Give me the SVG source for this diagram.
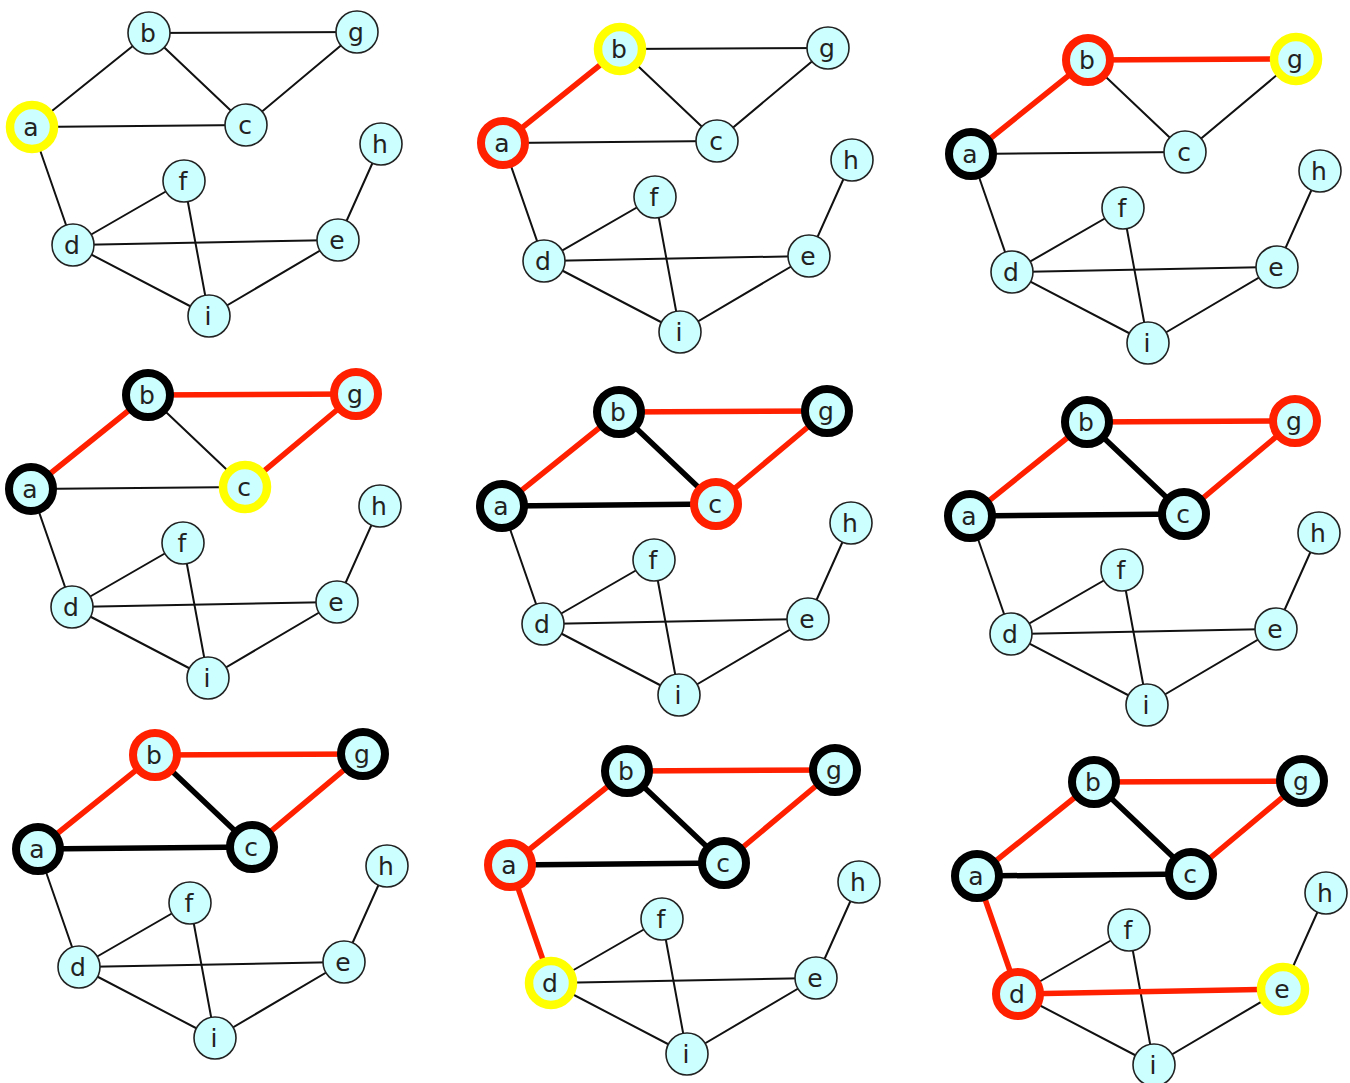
<svg xmlns="http://www.w3.org/2000/svg" width="1350" height="1083" viewBox="0 0 1350 1083">
<style>
.edge{stroke:#111;stroke-width:2;stroke-linecap:round}
.edge.red{stroke:#ff2000;stroke-width:5.5}
.edge.blk{stroke:#000;stroke-width:5.5}
.node circle{fill:#ccffff;stroke:#222;stroke-width:1.6}
.node.hy circle{stroke:#ffff00;stroke-width:8.5}
.node.hr circle{stroke:#ff2000;stroke-width:8}
.node.hk circle{stroke:#000;stroke-width:8}
.node text{font-family:"DejaVu Sans",sans-serif;font-size:25px;fill:#222;text-anchor:middle}
</style>
<rect width="1350" height="1083" fill="#fff"/>

<g id="panel1" transform="translate(0,0)">
<g id="p1-edges">
<line class="edge" x1="32" y1="127" x2="149" y2="33"/>
<line class="edge" x1="32" y1="127" x2="246" y2="125"/>
<line class="edge" x1="32" y1="127" x2="73" y2="245"/>
<line class="edge" x1="149" y1="33" x2="246" y2="125"/>
<line class="edge" x1="149" y1="33" x2="357" y2="32"/>
<line class="edge" x1="246" y1="125" x2="357" y2="32"/>
<line class="edge" x1="73" y1="245" x2="184" y2="181"/>
<line class="edge" x1="73" y1="245" x2="338" y2="240"/>
<line class="edge" x1="73" y1="245" x2="209" y2="316"/>
<line class="edge" x1="184" y1="181" x2="209" y2="316"/>
<line class="edge" x1="338" y1="240" x2="209" y2="316"/>
<line class="edge" x1="338" y1="240" x2="381" y2="144"/>
</g>
<g id="p1-a" class="node hy"><circle cx="32" cy="127" r="22"/><text x="31" y="136">a</text></g>
<g id="p1-b" class="node"><circle cx="149" cy="33" r="21"/><text x="148" y="42">b</text></g>
<g id="p1-c" class="node"><circle cx="246" cy="125" r="21"/><text x="245" y="134">c</text></g>
<g id="p1-d" class="node"><circle cx="73" cy="245" r="21"/><text x="72" y="254">d</text></g>
<g id="p1-e" class="node"><circle cx="338" cy="240" r="21"/><text x="337" y="249">e</text></g>
<g id="p1-f" class="node"><circle cx="184" cy="181" r="21"/><text x="183" y="190">f</text></g>
<g id="p1-g" class="node"><circle cx="357" cy="32" r="21"/><text x="356" y="41">g</text></g>
<g id="p1-h" class="node"><circle cx="381" cy="144" r="21"/><text x="380" y="153">h</text></g>
<g id="p1-i" class="node"><circle cx="209" cy="316" r="21"/><text x="208" y="325">i</text></g>
</g>

<g id="panel2" transform="translate(471,16)">
<g id="p2-edges">
<line class="edge" x1="32" y1="127" x2="246" y2="125"/>
<line class="edge" x1="32" y1="127" x2="73" y2="245"/>
<line class="edge" x1="149" y1="33" x2="246" y2="125"/>
<line class="edge" x1="149" y1="33" x2="357" y2="32"/>
<line class="edge" x1="246" y1="125" x2="357" y2="32"/>
<line class="edge" x1="73" y1="245" x2="184" y2="181"/>
<line class="edge" x1="73" y1="245" x2="338" y2="240"/>
<line class="edge" x1="73" y1="245" x2="209" y2="316"/>
<line class="edge" x1="184" y1="181" x2="209" y2="316"/>
<line class="edge" x1="338" y1="240" x2="209" y2="316"/>
<line class="edge" x1="338" y1="240" x2="381" y2="144"/>
<line class="edge red" x1="32" y1="127" x2="149" y2="33"/>
</g>
<g id="p2-a" class="node hr"><circle cx="32" cy="127" r="22"/><text x="31" y="136">a</text></g>
<g id="p2-b" class="node hy"><circle cx="149" cy="33" r="22"/><text x="148" y="42">b</text></g>
<g id="p2-c" class="node"><circle cx="246" cy="125" r="21"/><text x="245" y="134">c</text></g>
<g id="p2-d" class="node"><circle cx="73" cy="245" r="21"/><text x="72" y="254">d</text></g>
<g id="p2-e" class="node"><circle cx="338" cy="240" r="21"/><text x="337" y="249">e</text></g>
<g id="p2-f" class="node"><circle cx="184" cy="181" r="21"/><text x="183" y="190">f</text></g>
<g id="p2-g" class="node"><circle cx="357" cy="32" r="21"/><text x="356" y="41">g</text></g>
<g id="p2-h" class="node"><circle cx="381" cy="144" r="21"/><text x="380" y="153">h</text></g>
<g id="p2-i" class="node"><circle cx="209" cy="316" r="21"/><text x="208" y="325">i</text></g>
</g>

<g id="panel3" transform="translate(939,27)">
<g id="p3-edges">
<line class="edge" x1="32" y1="127" x2="246" y2="125"/>
<line class="edge" x1="32" y1="127" x2="73" y2="245"/>
<line class="edge" x1="149" y1="33" x2="246" y2="125"/>
<line class="edge" x1="246" y1="125" x2="357" y2="32"/>
<line class="edge" x1="73" y1="245" x2="184" y2="181"/>
<line class="edge" x1="73" y1="245" x2="338" y2="240"/>
<line class="edge" x1="73" y1="245" x2="209" y2="316"/>
<line class="edge" x1="184" y1="181" x2="209" y2="316"/>
<line class="edge" x1="338" y1="240" x2="209" y2="316"/>
<line class="edge" x1="338" y1="240" x2="381" y2="144"/>
<line class="edge red" x1="32" y1="127" x2="149" y2="33"/>
<line class="edge red" x1="149" y1="33" x2="357" y2="32"/>
</g>
<g id="p3-a" class="node hk"><circle cx="32" cy="127" r="22"/><text x="31" y="136">a</text></g>
<g id="p3-b" class="node hr"><circle cx="149" cy="33" r="22"/><text x="148" y="42">b</text></g>
<g id="p3-c" class="node"><circle cx="246" cy="125" r="21"/><text x="245" y="134">c</text></g>
<g id="p3-d" class="node"><circle cx="73" cy="245" r="21"/><text x="72" y="254">d</text></g>
<g id="p3-e" class="node"><circle cx="338" cy="240" r="21"/><text x="337" y="249">e</text></g>
<g id="p3-f" class="node"><circle cx="184" cy="181" r="21"/><text x="183" y="190">f</text></g>
<g id="p3-g" class="node hy"><circle cx="357" cy="32" r="22"/><text x="356" y="41">g</text></g>
<g id="p3-h" class="node"><circle cx="381" cy="144" r="21"/><text x="380" y="153">h</text></g>
<g id="p3-i" class="node"><circle cx="209" cy="316" r="21"/><text x="208" y="325">i</text></g>
</g>

<g id="panel4" transform="translate(-1,362)">
<g id="p4-edges">
<line class="edge" x1="32" y1="127" x2="246" y2="125"/>
<line class="edge" x1="32" y1="127" x2="73" y2="245"/>
<line class="edge" x1="149" y1="33" x2="246" y2="125"/>
<line class="edge" x1="73" y1="245" x2="184" y2="181"/>
<line class="edge" x1="73" y1="245" x2="338" y2="240"/>
<line class="edge" x1="73" y1="245" x2="209" y2="316"/>
<line class="edge" x1="184" y1="181" x2="209" y2="316"/>
<line class="edge" x1="338" y1="240" x2="209" y2="316"/>
<line class="edge" x1="338" y1="240" x2="381" y2="144"/>
<line class="edge red" x1="32" y1="127" x2="149" y2="33"/>
<line class="edge red" x1="149" y1="33" x2="357" y2="32"/>
<line class="edge red" x1="246" y1="125" x2="357" y2="32"/>
</g>
<g id="p4-a" class="node hk"><circle cx="32" cy="127" r="22"/><text x="31" y="136">a</text></g>
<g id="p4-b" class="node hk"><circle cx="149" cy="33" r="22"/><text x="148" y="42">b</text></g>
<g id="p4-c" class="node hy"><circle cx="246" cy="125" r="22"/><text x="245" y="134">c</text></g>
<g id="p4-d" class="node"><circle cx="73" cy="245" r="21"/><text x="72" y="254">d</text></g>
<g id="p4-e" class="node"><circle cx="338" cy="240" r="21"/><text x="337" y="249">e</text></g>
<g id="p4-f" class="node"><circle cx="184" cy="181" r="21"/><text x="183" y="190">f</text></g>
<g id="p4-g" class="node hr"><circle cx="357" cy="32" r="22"/><text x="356" y="41">g</text></g>
<g id="p4-h" class="node"><circle cx="381" cy="144" r="21"/><text x="380" y="153">h</text></g>
<g id="p4-i" class="node"><circle cx="209" cy="316" r="21"/><text x="208" y="325">i</text></g>
</g>

<g id="panel5" transform="translate(470,379)">
<g id="p5-edges">
<line class="edge" x1="32" y1="127" x2="73" y2="245"/>
<line class="edge" x1="73" y1="245" x2="184" y2="181"/>
<line class="edge" x1="73" y1="245" x2="338" y2="240"/>
<line class="edge" x1="73" y1="245" x2="209" y2="316"/>
<line class="edge" x1="184" y1="181" x2="209" y2="316"/>
<line class="edge" x1="338" y1="240" x2="209" y2="316"/>
<line class="edge" x1="338" y1="240" x2="381" y2="144"/>
<line class="edge blk" x1="32" y1="127" x2="246" y2="125"/>
<line class="edge blk" x1="149" y1="33" x2="246" y2="125"/>
<line class="edge red" x1="32" y1="127" x2="149" y2="33"/>
<line class="edge red" x1="149" y1="33" x2="357" y2="32"/>
<line class="edge red" x1="246" y1="125" x2="357" y2="32"/>
</g>
<g id="p5-a" class="node hk"><circle cx="32" cy="127" r="22"/><text x="31" y="136">a</text></g>
<g id="p5-b" class="node hk"><circle cx="149" cy="33" r="22"/><text x="148" y="42">b</text></g>
<g id="p5-c" class="node hr"><circle cx="246" cy="125" r="22"/><text x="245" y="134">c</text></g>
<g id="p5-d" class="node"><circle cx="73" cy="245" r="21"/><text x="72" y="254">d</text></g>
<g id="p5-e" class="node"><circle cx="338" cy="240" r="21"/><text x="337" y="249">e</text></g>
<g id="p5-f" class="node"><circle cx="184" cy="181" r="21"/><text x="183" y="190">f</text></g>
<g id="p5-g" class="node hk"><circle cx="357" cy="32" r="22"/><text x="356" y="41">g</text></g>
<g id="p5-h" class="node"><circle cx="381" cy="144" r="21"/><text x="380" y="153">h</text></g>
<g id="p5-i" class="node"><circle cx="209" cy="316" r="21"/><text x="208" y="325">i</text></g>
</g>

<g id="panel6" transform="translate(938,389)">
<g id="p6-edges">
<line class="edge" x1="32" y1="127" x2="73" y2="245"/>
<line class="edge" x1="73" y1="245" x2="184" y2="181"/>
<line class="edge" x1="73" y1="245" x2="338" y2="240"/>
<line class="edge" x1="73" y1="245" x2="209" y2="316"/>
<line class="edge" x1="184" y1="181" x2="209" y2="316"/>
<line class="edge" x1="338" y1="240" x2="209" y2="316"/>
<line class="edge" x1="338" y1="240" x2="381" y2="144"/>
<line class="edge blk" x1="32" y1="127" x2="246" y2="125"/>
<line class="edge blk" x1="149" y1="33" x2="246" y2="125"/>
<line class="edge red" x1="32" y1="127" x2="149" y2="33"/>
<line class="edge red" x1="149" y1="33" x2="357" y2="32"/>
<line class="edge red" x1="246" y1="125" x2="357" y2="32"/>
</g>
<g id="p6-a" class="node hk"><circle cx="32" cy="127" r="22"/><text x="31" y="136">a</text></g>
<g id="p6-b" class="node hk"><circle cx="149" cy="33" r="22"/><text x="148" y="42">b</text></g>
<g id="p6-c" class="node hk"><circle cx="246" cy="125" r="22"/><text x="245" y="134">c</text></g>
<g id="p6-d" class="node"><circle cx="73" cy="245" r="21"/><text x="72" y="254">d</text></g>
<g id="p6-e" class="node"><circle cx="338" cy="240" r="21"/><text x="337" y="249">e</text></g>
<g id="p6-f" class="node"><circle cx="184" cy="181" r="21"/><text x="183" y="190">f</text></g>
<g id="p6-g" class="node hr"><circle cx="357" cy="32" r="22"/><text x="356" y="41">g</text></g>
<g id="p6-h" class="node"><circle cx="381" cy="144" r="21"/><text x="380" y="153">h</text></g>
<g id="p6-i" class="node"><circle cx="209" cy="316" r="21"/><text x="208" y="325">i</text></g>
</g>

<g id="panel7" transform="translate(6,722)">
<g id="p7-edges">
<line class="edge" x1="32" y1="127" x2="73" y2="245"/>
<line class="edge" x1="73" y1="245" x2="184" y2="181"/>
<line class="edge" x1="73" y1="245" x2="338" y2="240"/>
<line class="edge" x1="73" y1="245" x2="209" y2="316"/>
<line class="edge" x1="184" y1="181" x2="209" y2="316"/>
<line class="edge" x1="338" y1="240" x2="209" y2="316"/>
<line class="edge" x1="338" y1="240" x2="381" y2="144"/>
<line class="edge blk" x1="32" y1="127" x2="246" y2="125"/>
<line class="edge blk" x1="149" y1="33" x2="246" y2="125"/>
<line class="edge red" x1="32" y1="127" x2="149" y2="33"/>
<line class="edge red" x1="149" y1="33" x2="357" y2="32"/>
<line class="edge red" x1="246" y1="125" x2="357" y2="32"/>
</g>
<g id="p7-a" class="node hk"><circle cx="32" cy="127" r="22"/><text x="31" y="136">a</text></g>
<g id="p7-b" class="node hr"><circle cx="149" cy="33" r="22"/><text x="148" y="42">b</text></g>
<g id="p7-c" class="node hk"><circle cx="246" cy="125" r="22"/><text x="245" y="134">c</text></g>
<g id="p7-d" class="node"><circle cx="73" cy="245" r="21"/><text x="72" y="254">d</text></g>
<g id="p7-e" class="node"><circle cx="338" cy="240" r="21"/><text x="337" y="249">e</text></g>
<g id="p7-f" class="node"><circle cx="184" cy="181" r="21"/><text x="183" y="190">f</text></g>
<g id="p7-g" class="node hk"><circle cx="357" cy="32" r="22"/><text x="356" y="41">g</text></g>
<g id="p7-h" class="node"><circle cx="381" cy="144" r="21"/><text x="380" y="153">h</text></g>
<g id="p7-i" class="node"><circle cx="209" cy="316" r="21"/><text x="208" y="325">i</text></g>
</g>

<g id="panel8" transform="translate(478,738)">
<g id="p8-edges">
<line class="edge" x1="73" y1="245" x2="184" y2="181"/>
<line class="edge" x1="73" y1="245" x2="338" y2="240"/>
<line class="edge" x1="73" y1="245" x2="209" y2="316"/>
<line class="edge" x1="184" y1="181" x2="209" y2="316"/>
<line class="edge" x1="338" y1="240" x2="209" y2="316"/>
<line class="edge" x1="338" y1="240" x2="381" y2="144"/>
<line class="edge blk" x1="32" y1="127" x2="246" y2="125"/>
<line class="edge blk" x1="149" y1="33" x2="246" y2="125"/>
<line class="edge red" x1="32" y1="127" x2="149" y2="33"/>
<line class="edge red" x1="149" y1="33" x2="357" y2="32"/>
<line class="edge red" x1="246" y1="125" x2="357" y2="32"/>
<line class="edge red" x1="32" y1="127" x2="73" y2="245"/>
</g>
<g id="p8-a" class="node hr"><circle cx="32" cy="127" r="22"/><text x="31" y="136">a</text></g>
<g id="p8-b" class="node hk"><circle cx="149" cy="33" r="22"/><text x="148" y="42">b</text></g>
<g id="p8-c" class="node hk"><circle cx="246" cy="125" r="22"/><text x="245" y="134">c</text></g>
<g id="p8-d" class="node hy"><circle cx="73" cy="245" r="22"/><text x="72" y="254">d</text></g>
<g id="p8-e" class="node"><circle cx="338" cy="240" r="21"/><text x="337" y="249">e</text></g>
<g id="p8-f" class="node"><circle cx="184" cy="181" r="21"/><text x="183" y="190">f</text></g>
<g id="p8-g" class="node hk"><circle cx="357" cy="32" r="22"/><text x="356" y="41">g</text></g>
<g id="p8-h" class="node"><circle cx="381" cy="144" r="21"/><text x="380" y="153">h</text></g>
<g id="p8-i" class="node"><circle cx="209" cy="316" r="21"/><text x="208" y="325">i</text></g>
</g>

<g id="panel9" transform="translate(945,749)">
<g id="p9-edges">
<line class="edge" x1="73" y1="245" x2="184" y2="181"/>
<line class="edge" x1="73" y1="245" x2="209" y2="316"/>
<line class="edge" x1="184" y1="181" x2="209" y2="316"/>
<line class="edge" x1="338" y1="240" x2="209" y2="316"/>
<line class="edge" x1="338" y1="240" x2="381" y2="144"/>
<line class="edge blk" x1="32" y1="127" x2="246" y2="125"/>
<line class="edge blk" x1="149" y1="33" x2="246" y2="125"/>
<line class="edge red" x1="32" y1="127" x2="149" y2="33"/>
<line class="edge red" x1="149" y1="33" x2="357" y2="32"/>
<line class="edge red" x1="246" y1="125" x2="357" y2="32"/>
<line class="edge red" x1="32" y1="127" x2="73" y2="245"/>
<line class="edge red" x1="73" y1="245" x2="338" y2="240"/>
</g>
<g id="p9-a" class="node hk"><circle cx="32" cy="127" r="22"/><text x="31" y="136">a</text></g>
<g id="p9-b" class="node hk"><circle cx="149" cy="33" r="22"/><text x="148" y="42">b</text></g>
<g id="p9-c" class="node hk"><circle cx="246" cy="125" r="22"/><text x="245" y="134">c</text></g>
<g id="p9-d" class="node hr"><circle cx="73" cy="245" r="22"/><text x="72" y="254">d</text></g>
<g id="p9-e" class="node hy"><circle cx="338" cy="240" r="22"/><text x="337" y="249">e</text></g>
<g id="p9-f" class="node"><circle cx="184" cy="181" r="21"/><text x="183" y="190">f</text></g>
<g id="p9-g" class="node hk"><circle cx="357" cy="32" r="22"/><text x="356" y="41">g</text></g>
<g id="p9-h" class="node"><circle cx="381" cy="144" r="21"/><text x="380" y="153">h</text></g>
<g id="p9-i" class="node"><circle cx="209" cy="316" r="21"/><text x="208" y="325">i</text></g>
</g>
</svg>
